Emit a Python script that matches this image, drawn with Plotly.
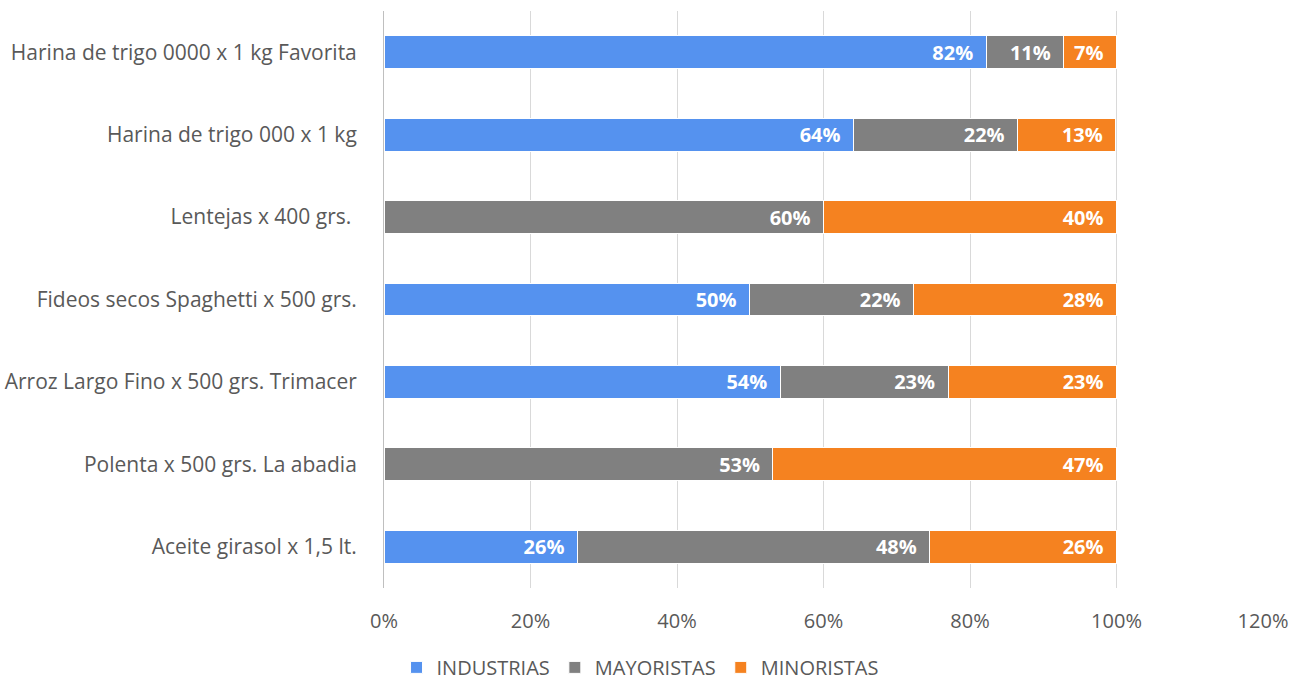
import plotly.graph_objects as go

categories = [
    "Harina de trigo 0000 x 1 kg Favorita",
    "Harina de trigo 000 x 1 kg",
    "Lentejas x 400 grs. ",
    "Fideos secos Spaghetti x 500 grs.",
    "Arroz Largo Fino x 500 grs. Trimacer",
    "Polenta x 500 grs. La abadia",
    "Aceite girasol x 1,5 lt.",
]
industrias = [0.822, 0.641, 0.0, 0.499, 0.541, 0.0, 0.264]
mayoristas = [0.106, 0.224, 0.600, 0.224, 0.229, 0.531, 0.481]
minoristas = [0.072, 0.134, 0.400, 0.277, 0.230, 0.469, 0.255]
tick_vals = [0, 0.2, 0.4, 0.6, 0.8, 1.0, 1.2]
tick_text = ["0%", "20%", "40%", "60%", "80%", "100%", "120%"]

series = [
    ("INDUSTRIAS", industrias, "#5592EF"),
    ("MAYORISTAS", mayoristas, "#808080"),
    ("MINORISTAS", minoristas, "#F58220"),
]

font_family = "'Open Sans', sans-serif"
FS = 20

fig = go.Figure()
for name, vals, color in series:
    texts = [f"{round(v*100):.0f}%" if v > 0 else "" for v in vals]
    fig.add_trace(go.Bar(
        name=name,
        y=categories,
        x=vals,
        orientation="h",
        marker=dict(color=color, line=dict(color="white", width=1)),
        text=texts,
        texttemplate="%{text}\u2002",
        textposition="inside",
        insidetextanchor="end",
        textfont=dict(color="white", size=FS, family=font_family, weight="bold"),
        hoverinfo="x+name",
        width=0.4,
    ))

fig.update_layout(
    barmode="stack",
    width=1293,
    height=681,
    margin=dict(l=384, r=30, t=11, b=93),
    plot_bgcolor="white",
    paper_bgcolor="white",
    font=dict(family=font_family, color="#595959", size=FS),
    xaxis=dict(
        range=[0, 1.2],
        tickvals=tick_vals,
        ticktext=tick_text,
        showgrid=True,
        gridcolor="#D9D9D9",
        gridwidth=1,
        zeroline=False,
        tickfont=dict(size=FS, color="#595959"),
        ticklen=0,
        ticklabelstandoff=19,
        automargin=False,
    ),
    yaxis=dict(
        categoryorder="array",
        categoryarray=categories[::-1],
        showline=True,
        linecolor="#BFBFBF",
        linewidth=1,
        ticks="",
        tickfont=dict(size=21, color="#595959"),
        ticklabelstandoff=22,
        automargin=False,
    ),
    legend=dict(
        orientation="h",
        xref="container",
        yref="container",
        x=0.495,
        xanchor="center",
        y=0.02,
        yanchor="middle",
        font=dict(size=FS, color="#595959"),
        traceorder="normal",
        itemwidth=30,
    ),
    bargap=0.6,
)

fig.write_html(
    "out.html",
    config={"displayModeBar": False},
    post_script="document.body.style.margin='0';",
)
